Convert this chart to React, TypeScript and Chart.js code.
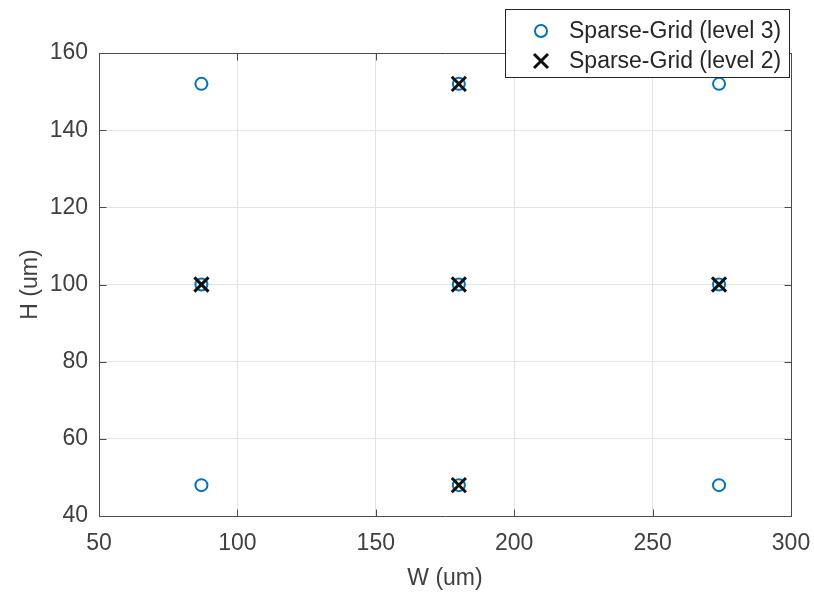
import React, { useEffect, useRef } from "react";
import { Chart, registerables } from "chart.js";

Chart.register(...registerables);

// ---- data ----
const level3W = [87, 87, 87, 180, 180, 180, 274, 274, 274];
const level3H = [48, 100, 152, 48, 100, 152, 48, 100, 152];
const level2W = [87, 180, 180, 180, 274];
const level2H = [100, 48, 100, 152, 100];
const xTicks = [50, 100, 150, 200, 250, 300];
const yTicks = [40, 60, 80, 100, 120, 140, 160];
const seriesLabels = ["Sparse-Grid (level 3)", "Sparse-Grid (level 2)"];
const xTitle = "W (um)";
const yTitle = "H (um)";

const FONT = "'Liberation Sans', Arial, Helvetica, sans-serif";
const TEXT = "#404040";
const AXIS = "#4a4a4a";
const GRID = "#e4e4e4";
const BLUE = "#0072BD";
const BLACK = "#111111";

const framePlugin = {
  id: "matlabFrame",
  afterDraw(chart: any) {
    const { ctx, chartArea, scales } = chart;
    const { left, right, top, bottom } = chartArea;
    const al = (v: number) => Math.round(v) + 0.5;
    ctx.save();
    ctx.strokeStyle = AXIS;
    ctx.lineWidth = 1;
    // top & right borders
    ctx.beginPath();
    ctx.moveTo(al(left), al(top));
    ctx.lineTo(al(right), al(top));
    ctx.lineTo(al(right), al(bottom));
    ctx.stroke();
    // inward tick marks
    const tl = 7;
    ctx.beginPath();
    xTicks.forEach((v) => {
      const px = al(scales.x.getPixelForValue(v));
      ctx.moveTo(px, al(bottom));
      ctx.lineTo(px, al(bottom) - tl);
      ctx.moveTo(px, al(top));
      ctx.lineTo(px, al(top) + tl);
    });
    yTicks.forEach((v) => {
      const py = al(scales.y.getPixelForValue(v));
      ctx.moveTo(al(left), py);
      ctx.lineTo(al(left) + tl, py);
      ctx.moveTo(al(right), py);
      ctx.lineTo(al(right) - tl, py);
    });
    ctx.stroke();

    // legend
    const bx = 505.5, by = 9.5, bw = 284, bh = 68;
    ctx.fillStyle = "#ffffff";
    ctx.fillRect(bx, by, bw, bh);
    ctx.strokeStyle = "#262626";
    ctx.lineWidth = 1;
    ctx.strokeRect(bx, by, bw, bh);
    const mx = 541;
    const rows = [31, 61];
    // circle
    ctx.strokeStyle = BLUE;
    ctx.lineWidth = 2;
    ctx.beginPath();
    ctx.arc(mx, rows[0], 6, 0, Math.PI * 2);
    ctx.stroke();
    // X
    ctx.strokeStyle = BLACK;
    ctx.lineWidth = 3;
    ctx.beginPath();
    ctx.moveTo(mx - 7, rows[1] - 7);
    ctx.lineTo(mx + 7, rows[1] + 7);
    ctx.moveTo(mx + 7, rows[1] - 7);
    ctx.lineTo(mx - 7, rows[1] + 7);
    ctx.stroke();
    ctx.fillStyle = "#262626";
    ctx.font = `23px ${FONT}`;
    ctx.textBaseline = "middle";
    ctx.textAlign = "left";
    seriesLabels.forEach((t, i) => ctx.fillText(t, 569, rows[i] + 1));
    ctx.restore();
  },
};

export default function App() {
  const ref = useRef<HTMLCanvasElement | null>(null);
  useEffect(() => {
    if (!ref.current) return;
    const chart = new Chart(ref.current, {
      type: "scatter",
      data: {
        datasets: [
          {
            label: seriesLabels[0],
            data: level3W.map((w, i) => ({ x: w, y: level3H[i] })),
            pointStyle: "circle",
            pointRadius: 6,
            pointBorderWidth: 2,
            borderColor: BLUE,
            backgroundColor: "rgba(0,0,0,0)",
            pointBackgroundColor: "rgba(0,0,0,0)",
            pointBorderColor: BLUE,
            order: 1,
          },
          {
            label: seriesLabels[1],
            data: level2W.map((w, i) => ({ x: w, y: level2H[i] })),
            pointStyle: "crossRot",
            pointRadius: 10,
            pointBorderWidth: 3,
            borderColor: BLACK,
            pointBorderColor: BLACK,
            backgroundColor: BLACK,
            order: 0,
          },
        ],
      },
      options: {
        responsive: false,
        animation: false,
        devicePixelRatio: 1,
        layout: { padding: { left: 0, top: 53, right: 23, bottom: 0 } },
        plugins: { legend: { display: false }, tooltip: { enabled: false } },
        scales: {
          x: {
            type: "linear",
            min: 50,
            max: 300,
            afterBuildTicks: (s: any) => {
              s.ticks = xTicks.map((v) => ({ value: v }));
            },
            afterFit: (s: any) => {
              s.height = 79;
              s.paddingLeft = 0;
              s.paddingRight = 0;
            },
            ticks: {
              font: { family: FONT, size: 23 },
              color: TEXT,
              padding: 14,
              maxRotation: 0,
            },
            grid: { color: GRID, drawTicks: false, lineWidth: 1 },
            border: { display: true, color: AXIS, width: 1 },
            title: {
              display: true,
              text: xTitle,
              font: { family: FONT, size: 23 },
              color: TEXT,
              padding: { top: 0, bottom: 3 },
            },
          },
          y: {
            type: "linear",
            min: 40,
            max: 160,
            afterBuildTicks: (s: any) => {
              s.ticks = yTicks.map((v) => ({ value: v }));
            },
            afterFit: (s: any) => {
              s.width = 99;
              s.paddingTop = 0;
              s.paddingBottom = 0;
            },
            ticks: {
              font: { family: FONT, size: 23 },
              color: TEXT,
              padding: 11,
            },
            grid: { color: GRID, drawTicks: false, lineWidth: 1 },
            border: { display: true, color: AXIS, width: 1 },
            title: {
              display: true,
              text: yTitle,
              font: { family: FONT, size: 23 },
              color: TEXT,
              padding: { top: 17, bottom: 0 },
            },
          },
        },
      },
      plugins: [framePlugin],
    } as any);
    return () => chart.destroy();
  }, []);
  return (
    <div style={{ position: "absolute", left: 0, top: 0, width: 814, height: 595, background: "#fff" }}>
      <canvas ref={ref} width={814} height={595} />
    </div>
  );
}
